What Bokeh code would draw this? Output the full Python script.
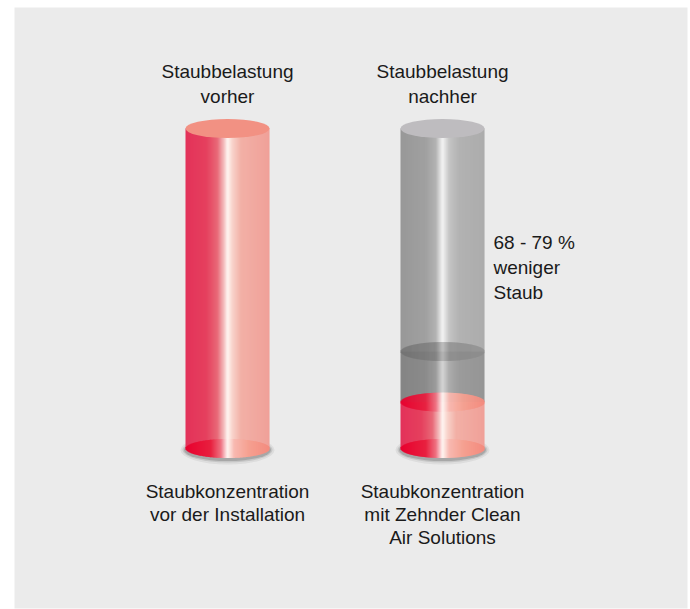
import numpy as np
from bokeh.plotting import figure
from bokeh.models import Range1d
from bokeh.core.properties import value
from bokeh.embed import file_html
from bokeh.resources import INLINE

# ---------------- data ----------------
categories = ["vorher", "nachher"]
capacity = [100.0, 100.0]          # full cylinder height (percent)
dust_level = [100.0, 14.5]         # red filling (percent)
reduction_mark = 30.3              # darker ring on right cylinder (percent)
top_labels = [["Staubbelastung", "vorher"], ["Staubbelastung", "nachher"]]
bottom_labels = [["Staubkonzentration", "vor der Installation"],
                 ["Staubkonzentration", "mit Zehnder Clean", "Air Solutions"]]
reduction_text = ["68 - 79 %", "weniger", "Staub"]

# ---------------- layout (pixels) ----------------
W, H = 690, 609
BASE_PX, TOP_PX = 448.0, 128.0
PX_PER_UNIT = (BASE_PX - TOP_PX) / 100.0
def py(pixel_y):
    return (BASE_PX - pixel_y) / PX_PER_UNIT
centers = [227.0, 442.0]
RX = 42.0
RY = 9.5 / PX_PER_UNIT
FONT = value("Liberation Sans")
FS = "19px"

p = figure(width=W, height=H, output_backend="svg", toolbar_location=None,
           x_range=Range1d(0, W), y_range=Range1d(py(H), py(0)),
           min_border=0, border_fill_color="white", background_fill_color="white")
p.axis.visible = False
p.grid.visible = False
p.outline_line_color = None

# panel
p.quad(left=[14], right=[687], bottom=[py(608)], top=[py(7)],
       fill_color="#ebebeb", line_color=None)

def hex2rgb(h):
    h = h.lstrip("#")
    return np.array([int(h[i:i + 2], 16) for i in (0, 2, 4)], dtype=float)

def gradient(stops, t):
    ts = np.array([s[0] for s in stops])
    cs = np.array([hex2rgb(s[1]) for s in stops])
    out = []
    for tt in t:
        r = np.interp(tt, ts, cs[:, 0]); g = np.interp(tt, ts, cs[:, 1]); b = np.interp(tt, ts, cs[:, 2])
        out.append("#%02x%02x%02x" % (int(round(r)), int(round(g)), int(round(b))))
    return out

RED_BODY = [(0, "#e3325a"), (0.25, "#e5405e"), (0.38, "#e86a78"), (0.46, "#f4c0c0"),
            (0.5, "#fff6f2"), (0.56, "#f8d2ca"), (0.66, "#f2b0a6"), (1.0, "#f0a098")]
RED_ELL = [(0, "#e8002e"), (0.3, "#e8203f"), (0.42, "#ee7080"), (0.5, "#fff6f2"),
           (0.58, "#f8b8b0"), (0.75, "#f5a090"), (1.0, "#f48a7e")]
GRAY_BODY = [(0, "#989898"), (0.3, "#a0a0a0"), (0.42, "#b2b2b2"), (0.5, "#f4f4f4"),
             (0.58, "#c4c4c4"), (0.7, "#b2b2b2"), (1.0, "#acacac")]
GRAY_BAND = [(0, "#6c6c6c"), (0.42, "#7a7a7a"), (0.5, "#a8a8a8"), (0.58, "#858585"), (1.0, "#8c8c8c")]

N = 84
def strips(cx):
    edges = np.linspace(cx - RX, cx + RX, N + 1)
    left = edges[:-1]
    right = edges[1:] + 0.6
    mid = (edges[:-1] + edges[1:]) / 2
    t = (mid - (cx - RX)) / (2 * RX)
    return left, np.minimum(right, cx + RX), mid, t

def body(cx, y0, y1, stops, alpha=1.0):
    left, right, mid, t = strips(cx)
    p.quad(left=left, right=right, bottom=[y0] * N, top=[y1] * N,
           fill_color=gradient(stops, t), fill_alpha=alpha, line_color=None)

def ell(cx, cy, stops, alpha=1.0):
    left, right, mid, t = strips(cx)
    dx = (mid - cx) / RX
    h = RY * np.sqrt(np.clip(1 - dx ** 2, 0, 1))
    p.quad(left=left, right=right, bottom=cy - h, top=cy + h,
           fill_color=gradient(stops, t), fill_alpha=alpha, line_color=None)

for i, cx in enumerate(centers):
    base = 0.0
    top = capacity[i]
    level = dust_level[i]
    # shadow
    for k, a in [(10, 0.10), (6, 0.18), (3, 0.30)]:
        p.ellipse(x=[cx], y=[base - 1.5 / PX_PER_UNIT], width=2 * RX + k,
                  height=2 * RY + k / PX_PER_UNIT, fill_color="#606060",
                  fill_alpha=a, line_color=None)
    if level < top:
        body(cx, level, top, GRAY_BODY)
        body(cx, level, reduction_mark, [(0, "#000000"), (1, "#000000")], alpha=0.08)
    body(cx, base, level, RED_BODY)
    ell(cx, base, RED_ELL)
    if level < top:
        ell(cx, level, RED_ELL, alpha=0.9)
        ell(cx, reduction_mark, GRAY_BAND, alpha=0.55)
        p.ellipse(x=[cx], y=[top], width=2 * RX, height=2 * RY,
                  fill_color="#bebcbf", line_color=None)
    else:
        p.ellipse(x=[cx], y=[top], width=2 * RX, height=2 * RY,
                  fill_color="#f29183", line_color=None)

    # labels
    for j, line in enumerate(top_labels[i]):
        p.text(x=[cx], y=[py(71 + 25 * j)], text=[line], text_font=FONT,
               text_font_size=FS, text_align="center", text_baseline="alphabetic",
               text_color="#1a1a1a")
    for j, line in enumerate(bottom_labels[i]):
        p.text(x=[cx], y=[py(491 + 23 * j)], text=[line], text_font=FONT,
               text_font_size=FS, text_align="center", text_baseline="alphabetic",
               text_color="#1a1a1a")

for j, line in enumerate(reduction_text):
    p.text(x=[centers[1] + RX + 9], y=[py(242 + 25 * j)], text=[line], text_font=FONT,
           text_font_size=FS, text_align="left", text_baseline="alphabetic",
           text_color="#1a1a1a")

open("out.html", "w").write(file_html(p, INLINE))
